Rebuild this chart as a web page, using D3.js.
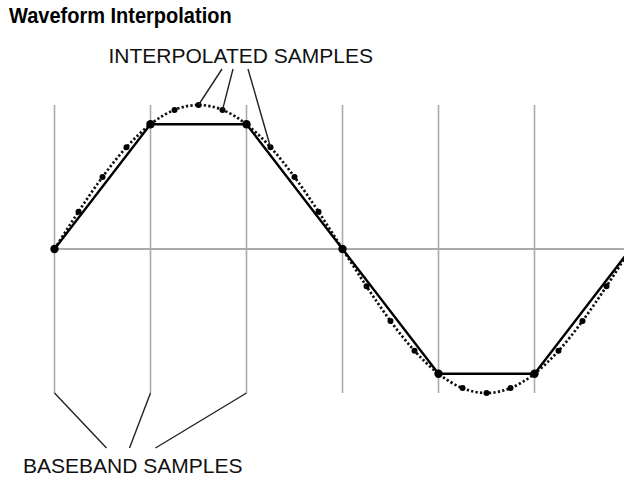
<!DOCTYPE html>
<html>
<head>
<meta charset="utf-8">
<script src="https://cdn.jsdelivr.net/npm/d3@7"></script>
<style>
  html, body { margin: 0; padding: 0; background: #fff; }
  svg { display: block; }
</style>
</head>
<body>
<svg id="chart" width="624" height="477"></svg>
<script>
// ---- data ----
const titleText = "Waveform Interpolation";
const topLabel = "INTERPOLATED SAMPLES";
const bottomLabel = "BASEBAND SAMPLES";

// baseband samples: phase (degrees) and normalised amplitude
const basebandPhase = [0, 60, 120, 180, 240, 300, 360];
const basebandValue = [0, 0.866, 0.866, 0, -0.866, -0.866, 0];

// interpolated samples (4x): phase and amplitude
const interpPhase = [0, 15, 30, 45, 60, 75, 90, 105, 120, 135, 150, 165, 180,
                     195, 210, 225, 240, 255, 270, 285, 300, 315, 330, 345, 360];
const interpValue = [0, 0.259, 0.5, 0.707, 0.866, 0.966, 1, 0.966, 0.866, 0.707, 0.5, 0.259, 0,
                     -0.259, -0.5, -0.707, -0.866, -0.966, -1, -0.966, -0.866, -0.707, -0.5, -0.259, 0];

// which samples the labels point at
const topPointerPhase = [90, 105, 135];
const bottomPointerPhase = [0, 60, 120];
// grid lines at the baseband sample instants
const gridPhase = [0, 60, 120, 180, 240, 300];

// ---- drawing ----
const svg = d3.select("#chart");
const W = 624, H = 477;

const x = d3.scaleLinear().domain([0, 360]).range([54.5, 630.5]);
const y = d3.scaleLinear().domain([-1, 1]).range([393, 105]);

const gridColor = "#ababab";

// vertical grid
svg.append("g").selectAll("line").data(gridPhase).join("line")
  .attr("x1", d => x(d)).attr("x2", d => x(d))
  .attr("y1", y(1)).attr("y2", y(-1))
  .attr("stroke", gridColor).attr("stroke-width", 1.6);

// horizontal zero axis
svg.append("line")
  .attr("x1", x(0)).attr("x2", W)
  .attr("y1", y(0)).attr("y2", y(0))
  .attr("stroke", gridColor).attr("stroke-width", 2);

const interp = interpPhase.map((p, i) => ({p, v: interpValue[i]}));
const base = basebandPhase.map((p, i) => ({p, v: basebandValue[i]}));

// dotted interpolated curve
svg.append("path")
  .datum(interp)
  .attr("d", d3.line().x(d => x(d.p)).y(d => y(d.v)).curve(d3.curveNatural))
  .attr("fill", "none").attr("stroke", "#111")
  .attr("stroke-width", 2.7).attr("stroke-dasharray", "2.3,2.2");

// solid baseband polyline
svg.append("path")
  .datum(base)
  .attr("d", d3.line().x(d => x(d.p)).y(d => y(d.v)))
  .attr("fill", "none").attr("stroke", "#000")
  .attr("stroke-width", 2.4).attr("stroke-linejoin", "round");

// interpolated sample dots
svg.append("g").selectAll("circle")
  .data(interp.filter(d => !basebandPhase.includes(d.p))).join("circle")
  .attr("cx", d => x(d.p)).attr("cy", d => y(d.v)).attr("r", 3)
  .attr("fill", "#000");

// baseband sample dots
svg.append("g").selectAll("circle").data(base).join("circle")
  .attr("cx", d => x(d.p)).attr("cy", d => y(d.v)).attr("r", 4.2)
  .attr("fill", "#000");

// title (condensed bold look)
svg.append("text")
  .attr("transform", "translate(9,23) scale(0.91,1)")
  .attr("font-family", "'Liberation Sans', Arial, sans-serif")
  .attr("font-weight", "bold").attr("font-size", 22)
  .attr("fill", "#000")
  .text(titleText);

// top label
svg.append("text")
  .attr("x", 108.5).attr("y", 62.5)
  .attr("font-family", "'Liberation Sans', Arial, sans-serif")
  .attr("font-size", 21).attr("fill", "#111")
  .text(topLabel);

const topStartX = [222, 233, 248];
svg.append("g").selectAll("line").data(topPointerPhase).join("line")
  .attr("x1", (d, i) => topStartX[i]).attr("y1", 69)
  .attr("x2", d => x(d)).attr("y2", d => y(interpValue[interpPhase.indexOf(d)]))
  .attr("stroke", "#222").attr("stroke-width", 1.4);

// bottom label
svg.append("text")
  .attr("x", 23).attr("y", 472.5)
  .attr("font-family", "'Liberation Sans', Arial, sans-serif")
  .attr("font-size", 21).attr("fill", "#111")
  .text(bottomLabel);

const bottomEndX = [106.5, 129.5, 155.5];
svg.append("g").selectAll("line").data(bottomPointerPhase).join("line")
  .attr("x1", d => x(d)).attr("y1", y(-1))
  .attr("x2", (d, i) => bottomEndX[i]).attr("y2", 448)
  .attr("stroke", "#222").attr("stroke-width", 1.4);
</script>
</body>
</html>
